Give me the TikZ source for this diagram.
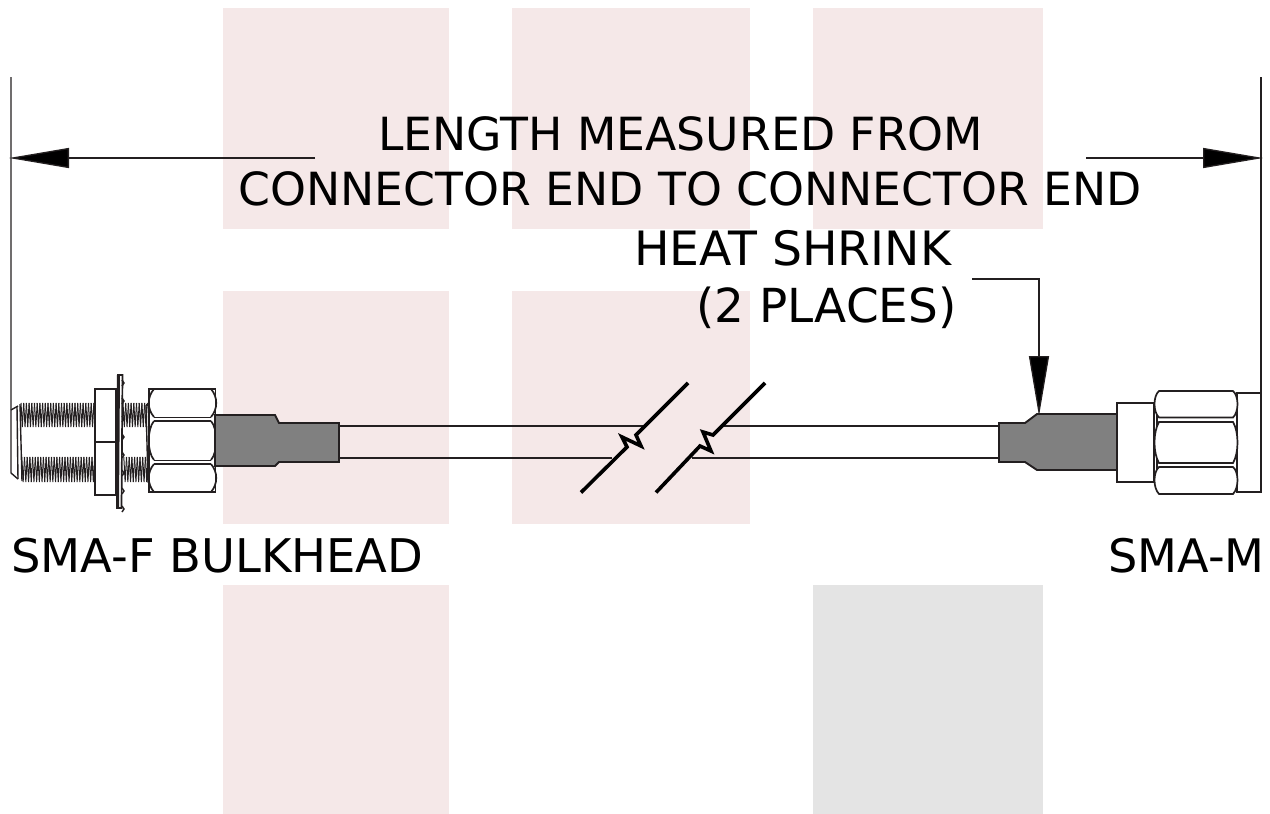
\documentclass[tikz,border=0pt]{standalone}
\usepackage{fontspec}
\setmainfont{DejaVu Sans}
\usetikzlibrary{arrows.meta}
\definecolor{blockpink}{HTML}{F5E8E8}
\definecolor{blockgray}{HTML}{E4E4E4}
\definecolor{shrinkgray}{HTML}{808080}
\definecolor{inkline}{HTML}{231F20}
\tikzset{
	label/.style={anchor=base west, inner sep=0pt, text=black, font=\fontsize{#1}{50}\selectfont},
	label/.default=45.7,
	part/.style={draw=inkline, line width=1.7pt},
	thin part/.style={draw=inkline, line width=1.4pt},
	shrink/.style={draw=inkline, fill=shrinkgray, line width=1.9pt},
	thread/.style={draw=inkline, line width=1pt},
	breakline/.style={draw=black, line width=3.6pt},
	dim/.style={draw=inkline, line width=1.3pt, shorten >=-2pt, -{Triangle[length=60pt,width=20pt,fill=black]}}
}
\begin{document}
\begin{tikzpicture}[x=1pt,y=-1pt,line join=miter]
\useasboundingbox (0,0) rectangle (1270,814);

\foreach \xa/\xb/\ya/\yb/\c in {223/449/8/229/blockpink,512/750/8/229/blockpink,813/1043/8/229/blockpink,223/449/291/524/blockpink,512/750/291/524/blockpink,223/449/585/814/blockpink,813/1043/585/814/blockgray}{
	\fill[\c] (\xa,\ya) rectangle (\xb,\yb);
}

\coordinate (dimLeft) at (11,158);
\coordinate (dimLeftStart) at (315,158);
\coordinate (dimRight) at (1261,158);
\coordinate (dimRightStart) at (1086,158);
\coordinate (shrinkTip) at (1039,414);
\coordinate (leaderStart) at (972,279);
\coordinate (leaderBend) at (1039,279);

\node[label] (lengthA) at (378,150) {LENGTH MEASURED FROM};
\node[label] (lengthB) at (238,205) {CONNECTOR END TO CONNECTOR END};
\node[label=47.3] (heatA) at (634,265) {HEAT SHRINK};
\node[label=46.9] (heatB) at (696,322) {(2 PLACES)};
\node[label=46.4] (smaF) at (11,572) {SMA-F BULKHEAD};
\node[label=46.2] (smaM) at (1108,572) {SMA-M};

\draw[dim] (dimLeftStart)--(dimLeft);
\draw[dim] (dimRightStart)--(dimRight);
\draw[dim] (leaderStart)--(leaderBend)--(shrinkTip);

% extension lines
\draw[thin part] (11,77)--(11,473)--(18,479);
\draw[thin part] (11,410)--(18,406);
\draw[thin part] (1261,77)--(1261,393);

% cable
\draw[thin part] (339,426)--(643,426);
\draw[thin part] (339,458)--(612,458);
\draw[thin part] (723,426)--(999,426);
\draw[thin part] (692,458)--(999,458);
\draw[breakline] (581,492.5)--(627,447)--(622,437)--(641,446)--(636,435)--(688,383);
\draw[breakline] (656,492.5)--(700,446)--(711,451)--(703,432)--(713,435)--(765,383);

% threads
\foreach \xa/\n in {21/27,123/8}{
	\foreach \k in {0,...,\n}{
		\draw[thread] (\xa+\k*2.7,403)--(\xa+\k*2.7+1.35,427)--(\xa+\k*2.7+2.7,403);
		\draw[thread] (\xa+\k*2.7+0.8,457)--(\xa+\k*2.7+2.15,482)--(\xa+\k*2.7+3.5,457);
	}
}
\draw[thin part] (17,406)--(18,479);
\draw[thin part] (20,404)--(22,481);
\draw[thin part] (146,405)--(149,405);
\draw[thin part] (146,405)--(148,482)--(149,482);

% SMA-F side
\draw[part, fill=white] (95,389) rectangle (116,495);
\draw[part] (95,442)--(116,442);
\draw[part, fill=white] (118,375)--(122.5,375)--(121.5,508)--(117,508)--cycle;
\draw[draw=inkline, line width=3pt] (118.5,375)--(117.5,508);
\foreach \k in {0,...,7}{
	\draw[thin part] (122,380+\k*18)--(124,383+\k*18)--(122,386+\k*18);
}
\draw[part, fill=white] (149,389) rectangle (215.5,492);
\foreach \ya/\yb in {389/417,421/460,464/492}{
	\draw[part] (154,\ya) .. controls (147,\ya+8) and (147,\yb-8) .. (154,\yb);
	\draw[part] (211,\ya) .. controls (218,\ya+8) and (218,\yb-8) .. (211,\yb);
}
\foreach \y in {417.5,421,460.5,464}{
	\draw[part] (154,\y)--(211,\y);
}
\draw[shrink] (215,415)--(275,415)--(279,423)--(339,423)--(339,462)--(279,462)--(275,466)--(215,466)--cycle;

% SMA-M side
\draw[shrink] (999,423)--(1025,423)--(1037,414)--(1117,414)--(1117,470)--(1037,470)--(1025,462)--(999,462)--cycle;
\draw[part, fill=white] (1117,403) rectangle (1154,482);
\draw[part, fill=white] (1237,393) rectangle (1261,492);
\draw[thin part] (1157,403)--(1157,482);
\draw[part, fill=white] (1159,391)--(1233,391)
	.. controls (1239,396) and (1239,412) .. (1233,417.5)--(1159,417.5)
	.. controls (1153,412) and (1153,396) .. cycle;
\draw[part, fill=white] (1159,422) .. controls (1153,432) and (1153,453) .. (1159,463)--(1233,463)
	.. controls (1239,453) and (1239,432) .. (1233,422)--cycle;
\draw[part, fill=white] (1159,467) .. controls (1153,472) and (1153,488) .. (1159,494)--(1233,494)
	.. controls (1239,488) and (1239,472) .. (1233,467)--cycle;
\end{tikzpicture}
\end{document}
